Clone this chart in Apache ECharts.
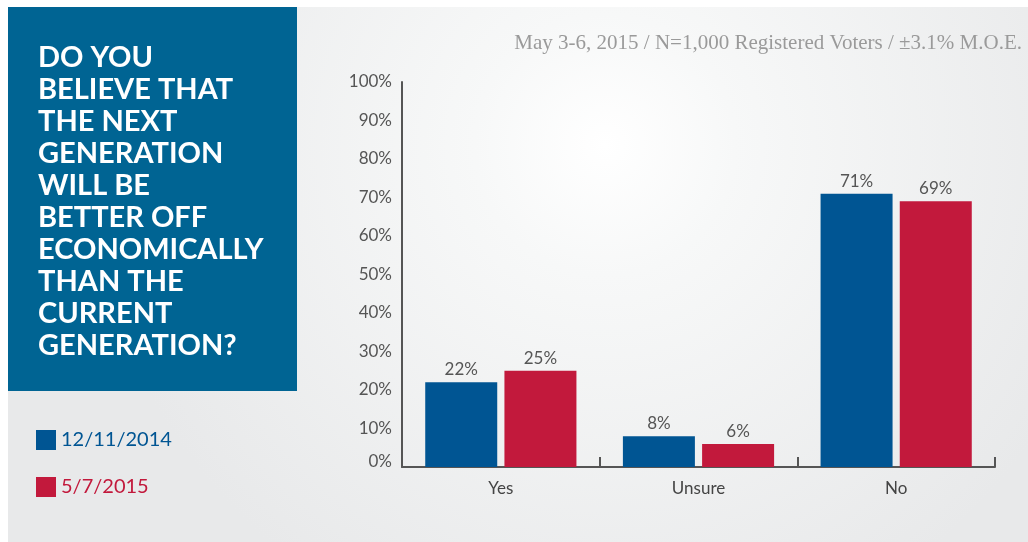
<!DOCTYPE html>
<html>
<head>
<meta charset="utf-8">
<script src="https://cdn.jsdelivr.net/npm/echarts@6/dist/echarts.min.js"></script>
<style>
  html, body { margin: 0; padding: 0; background: #fff; }
  #main { width: 1028px; height: 542px; }
</style>
</head>
<body>
<div id="main"></div>
<script>
// 数据
var categories = ['Yes', 'Unsure', 'No'];
var seriesNames = ['12/11/2014', '5/7/2015'];
var dec2014 = [22, 8, 71];
var may2015 = [25, 6, 69];
var questionLines = ['DO YOU', 'BELIEVE THAT', 'THE NEXT', 'GENERATION', 'WILL BE',
  'BETTER OFF', 'ECONOMICALLY', 'THAN THE', 'CURRENT', 'GENERATION?'];
var subtitle = 'May 3-6, 2015 / N=1,000 Registered Voters / \u00b13.1% M.O.E.';

var BLUE = '#005593';
var RED = '#c2193c';
var GREY = '#555555';
var FONT = 'Lato, "Noto Sans", sans-serif';

var myChart = echarts.init(document.getElementById('main'));

var option = {
  animation: false,
  textStyle: { fontFamily: FONT },
  title: {
    text: subtitle,
    right: 6,
    top: 33,
    padding: 0,
    textStyle: {
      fontFamily: '"Liberation Serif", serif',
      fontSize: 21,
      fontWeight: 'normal',
      color: '#9a9a9a'
    }
  },
  legend: {
    orient: 'vertical',
    left: 36,
    top: 430,
    padding: 0,
    itemWidth: 20,
    itemHeight: 20,
    itemGap: 27,
    icon: 'rect',
    selectedMode: false,
    textStyle: { fontSize: 20, fontFamily: FONT },
    data: [
      { name: seriesNames[0], textStyle: { color: BLUE } },
      { name: seriesNames[1], textStyle: { color: RED } }
    ]
  },
  grid: { left: 402, top: 82, width: 593, height: 385, containLabel: false },
  xAxis: {
    type: 'category',
    data: categories,
    axisLine: { lineStyle: { color: GREY, width: 2 } },
    axisTick: { show: true, inside: true, length: 10, lineStyle: { color: GREY, width: 2 } },
    axisLabel: { color: '#444', fontSize: 17, margin: 13 }
  },
  yAxis: {
    type: 'value',
    min: 0,
    max: 100,
    interval: 10,
    splitLine: { show: false },
    axisLine: { show: true, lineStyle: { color: GREY, width: 2 } },
    axisTick: { show: false },
    axisLabel: {
      color: GREY,
      fontSize: 17,
      margin: 10,
      formatter: function (v) { return v === 0 ? '{z|0%}' : v + '%'; },
      rich: { z: { fontSize: 17, color: GREY, padding: [0, 0, 10, 0] } }
    }
  },
  series: [
    {
      name: seriesNames[0],
      type: 'bar',
      data: dec2014,
      barWidth: 72,
      barGap: '10%',
      itemStyle: { color: BLUE },
      label: { show: true, position: 'top', distance: 4, formatter: '{c}%', color: GREY, fontSize: 17 }
    },
    {
      name: seriesNames[1],
      type: 'bar',
      data: may2015,
      barWidth: 72,
      barGap: '10%',
      itemStyle: { color: RED },
      label: { show: true, position: 'top', distance: 4, formatter: '{c}%', color: GREY, fontSize: 17 }
    }
  ],
  graphic: [
    {
      type: 'rect',
      z: -10,
      silent: true,
      shape: { x: 8, y: 7, width: 1020, height: 535 },
      style: {
        fill: new echarts.graphic.RadialGradient(605, 145, 520, [
          { offset: 0, color: '#ffffff' },
          { offset: 0.25, color: '#f7f8f8' },
          { offset: 1, color: '#e8e9ea' }
        ], true)
      }
    },
    {
      type: 'rect',
      z: -5,
      silent: true,
      shape: { x: 8, y: 7, width: 289, height: 384 },
      style: { fill: '#006493' }
    },
    {
      type: 'text',
      z: -4,
      silent: true,
      left: 38,
      top: 42,
      style: {
        text: questionLines.join('\n'),
        fill: '#ffffff',
        fontFamily: FONT,
        fontWeight: 'bold',
        fontSize: 29,
        lineHeight: 32
      }
    }
  ]
};

myChart.setOption(option);
</script>
</body>
</html>
